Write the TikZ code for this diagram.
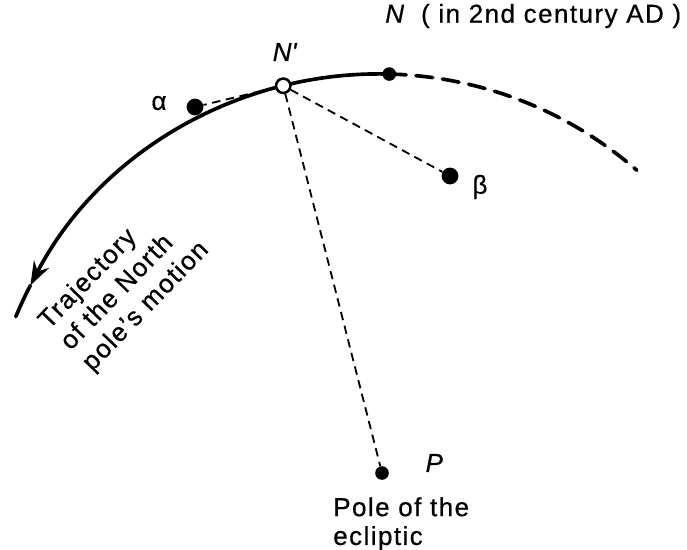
\documentclass[tikz,border=0pt]{standalone}
\usepackage{fontspec}
\setmainfont{Liberation Sans}[LetterSpace=5.5, FakeBold=0.6]
\usetikzlibrary{arrows.meta, calc}
\tikzset{
  lbl/.style={font=\fontsize{18.5}{20.5}\selectfont, inner sep=0pt},
  stardot/.style={circle, fill=black, inner sep=0pt, minimum size=#1},
  stardot/.default=0.36cm,
  ring/.style={circle, draw=black, fill=white, line width=1.8pt, inner sep=0pt, minimum size=0.36cm},
  traj/.style={line width=2.6pt, line cap=round},
  trajdash/.style={traj, dash pattern=on 12pt off 7pt},
  sight/.style={line width=1.3pt, dash pattern=on 6pt off 4pt},
  motion/.style={-{Stealth[length=6mm, width=4.2mm, inset=2mm]}},
}

\begin{document}
\begin{tikzpicture}[x=0.025cm, y=0.025cm]
  \useasboundingbox (0,0) rectangle (687,549);
  \coordinate (C) at (379,82);
  \coordinate (n) at ($(C)+(88.5:9.825cm)$);
  % path of the north pole
  \draw[traj, motion] (n) arc[start angle=88.5, end angle=152.5, radius=9.825cm] coordinate (tip);
  \draw[traj] (tip) arc[start angle=152.5, end angle=157.5, radius=9.825cm];
  \draw[trajdash] (n) arc[start angle=88.5, end angle=49, radius=9.825cm];
  % stars and poles
  \node[stardot=0.34cm] (N) at (n) {};
  \node[ring] (Np) at ($(C)+(104.1:9.825cm)$) {};
  \node[stardot=0.42cm] (a) at (195,442) {};
  \node[stardot=0.42cm] (b) at (450,373) {};
  \node[stardot=0.34cm] (P) at (382,76) {};
  \draw[sight] (Np) -- (a);
  \draw[sight] (Np) -- (b);
  \draw[sight] (Np) -- (P);
  % labels
  \node[lbl] (Nplbl) at (285,497) {\textit{N\textquotesingle}};
  \node[lbl, anchor=west] (Nlbl) at (385,533) {\textit{N}\hspace{0.6em}( in 2nd century AD )};
  \node[lbl] (albl) at (159,446) {α};
  \node[lbl] (blbl) at (480,362) {β};
  \node[lbl] (Plbl) at (435,86) {\textit{P}};
  \node[lbl, anchor=north west, align=left] (ecl) at (333,52) {Pole of the\\ecliptic};
  \node[lbl, anchor=north west, align=left, rotate=46, font=\fontsize{18.5}{21.5}\selectfont] (trlbl) at (35,232) {Trajectory\\of the North\\pole's motion};
\end{tikzpicture}
\end{document}
